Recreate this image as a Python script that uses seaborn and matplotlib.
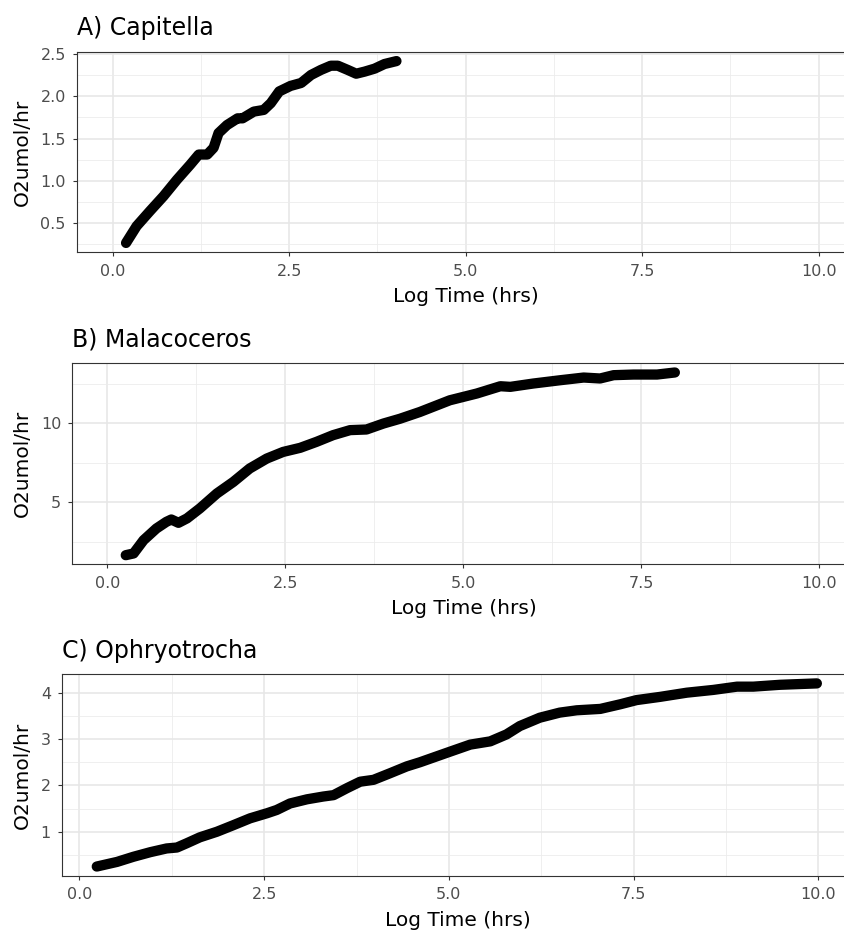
import numpy as np
import pandas as pd
import matplotlib
matplotlib.use("Agg")
import matplotlib.pyplot as plt
import matplotlib.transforms as mtransforms
import seaborn as sns

# values
cap_time = [0.19, 0.34, 0.53, 0.72, 0.91, 1.10, 1.22, 1.34, 1.43, 1.50, 1.62, 1.77,
            1.84, 2.00, 2.14, 2.24, 2.36, 2.52, 2.67, 2.81, 2.95, 3.09, 3.19, 3.33,
            3.45, 3.57, 3.71, 3.85, 4.02]
cap_o2 = [0.26, 0.46, 0.64, 0.815, 1.01, 1.19, 1.31, 1.31, 1.39, 1.565, 1.66, 1.74,
          1.74, 1.82, 1.84, 1.92, 2.06, 2.125, 2.16, 2.255, 2.315, 2.365, 2.365, 2.315,
          2.27, 2.295, 2.33, 2.385, 2.42]

mal_time = [0.26, 0.37, 0.51, 0.69, 0.83, 0.90, 1.00, 1.12, 1.30, 1.54, 1.77, 2.00,
            2.24, 2.47, 2.71, 2.94, 3.17, 3.41, 3.64, 3.88, 4.11, 4.39, 4.81, 5.19,
            5.52, 5.66, 5.98, 6.36, 6.69, 6.92, 7.11, 7.39, 7.72, 7.97]
mal_o2 = [1.66, 1.77, 2.61, 3.35, 3.77, 3.92, 3.71, 3.99, 4.62, 5.57, 6.30, 7.15,
          7.78, 8.20, 8.46, 8.84, 9.26, 9.58, 9.62, 10.0, 10.30, 10.73, 11.47, 11.90,
          12.36, 12.32, 12.53, 12.74, 12.91, 12.85, 13.06, 13.10, 13.10, 13.23]

oph_time = [0.235, 0.51, 0.73, 0.96, 1.18, 1.32, 1.45, 1.63, 1.86, 2.08, 2.31, 2.54,
            2.67, 2.85, 3.08, 3.30, 3.44, 3.62, 3.80, 3.98, 4.20, 4.43, 4.61, 5.02,
            5.29, 5.56, 5.78, 5.96, 6.23, 6.50, 6.73, 7.05, 7.32, 7.54, 7.86, 8.22,
            8.58, 8.90, 9.12, 9.48, 9.98]
oph_o2 = [0.25, 0.35, 0.46, 0.56, 0.64, 0.66, 0.75, 0.88, 1.00, 1.14, 1.29, 1.40,
          1.47, 1.61, 1.70, 1.76, 1.79, 1.94, 2.08, 2.12, 2.26, 2.41, 2.50, 2.73,
          2.88, 2.95, 3.10, 3.28, 3.46, 3.57, 3.62, 3.65, 3.75, 3.84, 3.91, 4.00,
          4.06, 4.13, 4.13, 4.17, 4.20]

titles = ["A) Capitella", "B) Malacoceros", "C) Ophryotrocha"]
x_ticks = [0, 2.5, 5, 7.5, 10]
x_ticklabels = ["0.0", "2.5", "5.0", "7.5", "10.0"]
y_ticks = [[0.5, 1.0, 1.5, 2.0, 2.5], [5, 10], [1, 2, 3, 4]]
y_ticklabels = [["0.5", "1.0", "1.5", "2.0", "2.5"], ["5", "10"], ["1", "2", "3", "4"]]

sns.set_theme(style="white")
plt.rcParams["font.family"] = ["DejaVu Sans"]

fig = plt.figure(figsize=(8.44, 9.30), dpi=100)

# panel boxes in figure fractions (the right side runs past the picture, as in the reference)
boxes = [[0.0912, 0.7290, 0.9206, 0.2151],
         [0.0857, 0.3932, 0.9274, 0.2161],
         [0.0735, 0.0584, 0.9390, 0.2166]]
xlims = [(-0.505, 10.5), (-0.49, 10.5), (-0.235, 10.49)]

series = [(cap_time, cap_o2), (mal_time, mal_o2), (oph_time, oph_o2)]

for i, (t, o2) in enumerate(series):
    ax = fig.add_axes(boxes[i])
    df = pd.DataFrame({"time": t, "o2": o2})
    sns.lineplot(data=df, x="time", y="o2", ax=ax, color="black", linewidth=7.4,
                 solid_capstyle="round", solid_joinstyle="round", zorder=3)

    ymin, ymax = min(o2), max(o2)
    pad = (ymax - ymin) * 0.05

    ax.set_xticks(x_ticks)
    ax.set_xticklabels(x_ticklabels)
    ax.set_yticks(y_ticks[i])
    ax.set_yticklabels(y_ticklabels[i])

    # minor grid halfway between majors, like ggplot
    xt = np.array(x_ticks)
    ax.set_xticks((xt[:-1] + xt[1:]) / 2, minor=True)
    yt = np.array(y_ticks[i])
    step = yt[1] - yt[0]
    ym = np.concatenate([[yt[0] - step / 2], (yt[:-1] + yt[1:]) / 2, [yt[-1] + step / 2]])
    ax.set_yticks(ym, minor=True)
    ax.set_ylim(ymin - pad, ymax + pad)
    ax.set_xlim(*xlims[i])

    ax.grid(which="major", color="#E6E6E6", linewidth=1.1)
    ax.grid(which="minor", color="#ECECEC", linewidth=0.6)
    ax.set_axisbelow(True)

    for s in ax.spines.values():
        s.set_visible(True)
        s.set_color("#333333")
        s.set_linewidth(0.8)

    ax.tick_params(which="major", length=3, width=0.8, color="#333333",
                   labelsize=11.5, labelcolor="#4D4D4D", bottom=True, left=True)
    ax.tick_params(axis="x", pad=5.5)
    ax.tick_params(axis="y", pad=5)
    ax.tick_params(which="minor", length=0)

    ax.set_xlabel("Log Time (hrs)", fontsize=14.5, color="black", labelpad=6)
    ax.set_ylabel("O2umol/hr", fontsize=14.5, color="black")
    trans = mtransforms.blended_transform_factory(fig.transFigure, ax.transAxes)
    ax.yaxis.set_label_coords(0.038, 0.5, transform=trans)
    ax.set_title(titles[i], loc="left", fontsize=17, color="black", pad=12)

fig.savefig("out.png", dpi=100)
